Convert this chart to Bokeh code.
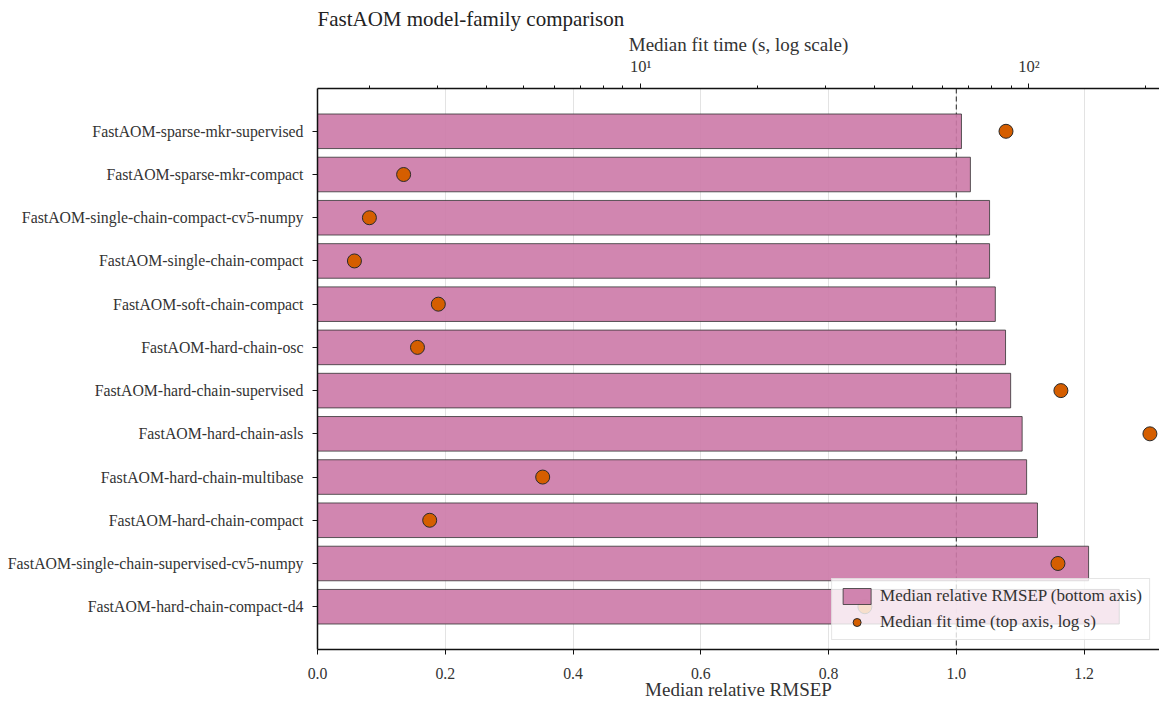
from bokeh.plotting import figure
from bokeh.models import (Range1d, LogScale, LogAxis, FixedTicker, Span, Legend,
                          LegendItem, ColumnDataSource)
from bokeh.embed import file_html
from bokeh.resources import INLINE

# Model families, top to bottom
models = [
    "FastAOM-sparse-mkr-supervised",
    "FastAOM-sparse-mkr-compact",
    "FastAOM-single-chain-compact-cv5-numpy",
    "FastAOM-single-chain-compact",
    "FastAOM-soft-chain-compact",
    "FastAOM-hard-chain-osc",
    "FastAOM-hard-chain-supervised",
    "FastAOM-hard-chain-asls",
    "FastAOM-hard-chain-multibase",
    "FastAOM-hard-chain-compact",
    "FastAOM-single-chain-supervised-cv5-numpy",
    "FastAOM-hard-chain-compact-d4",
]
# Median relative RMSEP (bottom axis)
rmsep = [1.008, 1.022, 1.052, 1.052, 1.061, 1.077, 1.085, 1.103, 1.110, 1.127, 1.207, 1.255]
# Median fit time in seconds (top axis, log)
fit_time = [87.3, 2.45, 2.0, 1.83, 3.01, 2.66, 120.9, 205.0, 5.59, 2.86, 118.8, 37.8]

rmsep_ticks = [0.0, 0.2, 0.4, 0.6, 0.8, 1.0, 1.2]
rmsep_tick_labels = ["0.0", "0.2", "0.4", "0.6", "0.8", "1.0", "1.2"]
time_ticks = [10, 100]
time_tick_labels = ["10\u00b9", "10\u00b2"]
time_minor_ticks = [2, 3, 4, 5, 6, 7, 8, 9, 20, 30, 40, 50, 60, 70, 80, 90, 200]

FONT = "Liberation Serif"
TEXT = "#333333"
BAR = "#CC79A7"
DOT = "#D55E00"

rows = list(range(len(models)))
src = ColumnDataSource(dict(row=rows, model=models, rmsep=rmsep, fit_time=fit_time))

p = figure(width=1159, height=705, output_backend="svg", toolbar_location=None,
           x_range=Range1d(0, 1.318),
           y_range=Range1d(len(models) - 0.01, -0.99),
           min_border_left=317, min_border_right=0,
           min_border_top=88, min_border_bottom=56)
p.outline_line_color = None
p.background_fill_color = "white"
p.border_fill_color = "white"

p.title.text = "FastAOM model-family comparison"
p.title.align = "left"
p.title.text_font = FONT
p.title.text_font_size = "21px"
p.title.text_font_style = "normal"
p.title.text_color = "#222222"
p.title.standoff = 0

bottom = p.below[0]
left = p.left[0]

# secondary log axis for fit time
p.extra_x_ranges = {"time": Range1d(1.47, 217)}
p.extra_x_scales = {"time": LogScale()}
top = LogAxis(x_range_name="time",
              ticker=FixedTicker(ticks=time_ticks, minor_ticks=time_minor_ticks),
              major_label_overrides=dict(zip(time_ticks, time_tick_labels)),
              axis_label="Median fit time (s, log scale)")
p.add_layout(top, "above")

# grid and reference line
p.xgrid.ticker = FixedTicker(ticks=rmsep_ticks)
p.xgrid.grid_line_color = "#e3e3e3"
p.xgrid.grid_line_width = 1
p.ygrid.visible = False
p.add_layout(Span(location=1.0, dimension="height", line_color="#444444",
                  line_dash="5 3", line_width=1.2, level="underlay"))

bars = p.hbar(y="row", left=0, right="rmsep", height=0.8, source=src,
              fill_color=BAR, fill_alpha=0.9, line_color="#333333",
              line_alpha=0.8, line_width=1)
pts = p.scatter(x="fit_time", y="row", source=src, x_range_name="time",
                size=14, marker="circle", fill_color=DOT, line_color="#2a2a2a",
                line_width=1, level="overlay")

# axes styling
bottom.ticker = FixedTicker(ticks=rmsep_ticks)
bottom.major_label_overrides = dict(zip(rmsep_ticks, rmsep_tick_labels))
bottom.axis_label = "Median relative RMSEP"
bottom.minor_tick_line_color = None

left.ticker = FixedTicker(ticks=rows)
left.major_label_overrides = dict(zip(rows, models))
left.minor_tick_line_color = None

for ax in (bottom, left, top):
    ax.axis_line_color = "#111111"
    ax.axis_line_width = 1.5
    ax.major_tick_line_color = "#111111"
    ax.major_tick_line_width = 1
    ax.major_tick_in = 0
    ax.major_tick_out = 5
    ax.major_label_text_font = FONT
    ax.major_label_text_font_size = "15.8px"
    ax.major_label_text_color = TEXT
    ax.axis_label_text_font = FONT
    ax.axis_label_text_font_size = "19px"
    ax.axis_label_text_font_style = "normal"
    ax.axis_label_text_color = TEXT
    ax.major_label_standoff = 6
    ax.axis_label_standoff = 4

left.major_label_standoff = 9
bottom.major_label_standoff = 13
bottom.axis_label_standoff = -3

top.minor_tick_line_color = "#111111"
top.minor_tick_in = 0
top.minor_tick_out = 3
top.major_label_standoff = 8
top.axis_label_standoff = -1
top.major_label_text_font_size = "16.5px"

legend = Legend(items=[
    LegendItem(label="Median relative RMSEP (bottom axis)", renderers=[bars]),
    LegendItem(label="Median fit time (top axis, log s)", renderers=[pts]),
], location="bottom_right", level="annotation")
legend.margin = 9
legend.padding = 7
legend.spacing = 6
legend.glyph_width = 35
legend.glyph_height = 20
legend.label_height = 20
legend.label_standoff = 6
legend.label_text_font = FONT
legend.label_text_font_size = "17px"
legend.label_text_color = TEXT
legend.border_line_color = "#cccccc"
legend.border_line_width = 1
legend.background_fill_color = "white"
legend.background_fill_alpha = 0.8
p.add_layout(legend)

open("out.html", "w").write(file_html(p, INLINE))
